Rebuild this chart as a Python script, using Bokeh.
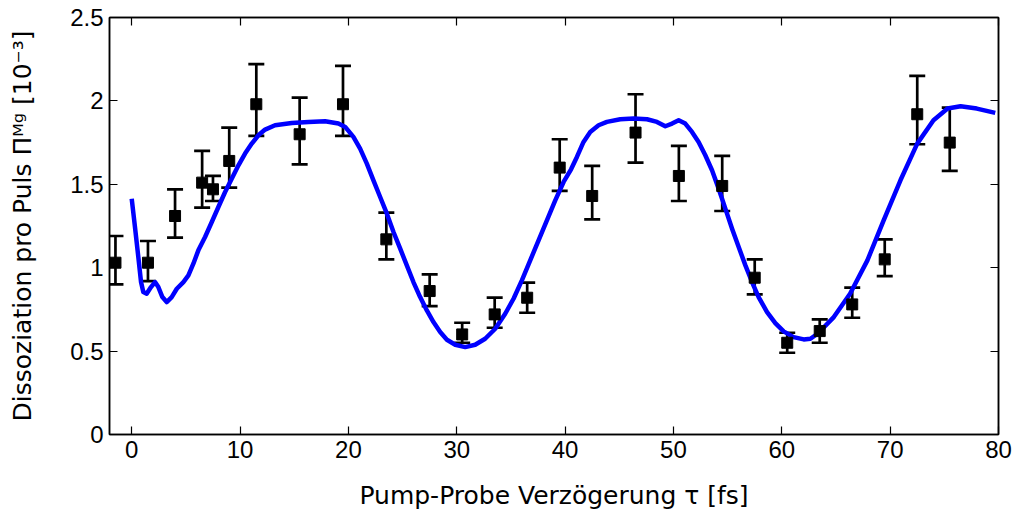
from bokeh.plotting import figure
from bokeh.models import (ColumnDataSource, Whisker, TeeHead, LinearAxis, Range1d,
                          FixedTicker, NumeralTickFormatter, CustomJSTickFormatter)
from bokeh.embed import file_html
from bokeh.resources import INLINE

# measured data (delay in fs, dissociation per pulse in 1e-3)
delay = [-1.5, 1.5, 4.0, 6.5, 7.5, 9.0, 11.5, 15.5, 19.5, 23.5, 27.5, 30.5, 33.5,
         36.5, 39.5, 42.5, 46.5, 50.5, 54.5, 57.5, 60.5, 63.5, 66.5, 69.5, 72.5, 75.5]
signal = [1.03, 1.03, 1.31, 1.51, 1.47, 1.64, 1.98, 1.80, 1.98, 1.17, 0.86, 0.60, 0.72,
          0.82, 1.60, 1.43, 1.81, 1.55, 1.49, 0.94, 0.55, 0.62, 0.78, 1.05, 1.92, 1.75]
err_upper = [1.19, 1.16, 1.47, 1.70, 1.55, 1.84, 2.22, 2.02, 2.21, 1.33, 0.96, 0.67, 0.82,
             0.91, 1.77, 1.61, 2.04, 1.73, 1.67, 1.05, 0.61, 0.69, 0.88, 1.17, 2.15, 1.96]
err_lower = [0.90, 0.92, 1.18, 1.36, 1.40, 1.48, 1.79, 1.62, 1.79, 1.05, 0.77, 0.55, 0.64,
             0.73, 1.46, 1.29, 1.63, 1.40, 1.34, 0.84, 0.49, 0.55, 0.70, 0.95, 1.74, 1.58]

# theory curve
theory_x = [0.0, 0.30, 0.61, 0.86, 1.07, 1.38, 1.78, 2.15, 2.46, 2.83, 3.23, 3.69, 4.16,
            4.77, 5.23, 5.69, 6.15, 6.77, 7.39, 8.0, 8.62, 9.23, 9.85, 10.46, 11.08,
            11.69, 12.31, 13.23, 14.77, 16.31, 17.85, 19.08, 19.7, 20.46, 21.08, 21.7,
            22.31, 22.93, 23.55, 24.16, 24.78, 25.39, 26.0, 26.62, 27.24, 27.85, 28.47,
            29.09, 29.86, 30.78, 31.70, 32.62, 33.55, 34.47, 35.24, 36.01, 36.78, 37.55,
            38.32, 39.09, 39.86, 40.55, 41.09, 41.70, 42.32, 43.09, 43.86, 45.09, 46.32,
            47.56, 48.48, 49.25, 49.87, 50.48, 51.09, 51.71, 52.32, 52.94, 53.56, 54.17,
            54.79, 55.41, 56.02, 56.64, 57.25, 57.86, 58.64, 59.40, 60.17, 61.09, 62.02,
            62.64, 63.3, 64.8, 66.3, 67.9, 69.4, 70.95, 72.5, 74.0, 75.3, 76.5, 78.0, 79.7]
theory_y = [1.414, 1.244, 1.064, 0.914, 0.854, 0.844, 0.884, 0.914, 0.884, 0.824, 0.794,
            0.824, 0.874, 0.914, 0.954, 1.024, 1.104, 1.184, 1.274, 1.364, 1.454, 1.534,
            1.614, 1.684, 1.744, 1.794, 1.828, 1.854, 1.868, 1.874, 1.878, 1.864, 1.844,
            1.784, 1.714, 1.624, 1.524, 1.424, 1.324, 1.214, 1.114, 1.014, 0.914, 0.824,
            0.744, 0.674, 0.614, 0.568, 0.538, 0.524, 0.538, 0.574, 0.634, 0.724, 0.814,
            0.924, 1.044, 1.164, 1.284, 1.404, 1.514, 1.59, 1.664, 1.754, 1.814, 1.854,
            1.874, 1.89, 1.894, 1.89, 1.874, 1.848, 1.864, 1.884, 1.864, 1.814, 1.754,
            1.674, 1.584, 1.474, 1.354, 1.234, 1.124, 1.014, 0.914, 0.824, 0.734, 0.668,
            0.618, 0.584, 0.57, 0.574, 0.604, 0.704, 0.844, 1.044, 1.284, 1.524, 1.744,
            1.884, 1.954, 1.968, 1.954, 1.928]

x_ticks = [0, 10, 20, 30, 40, 50, 60, 70, 80]
y_ticks = [0, 0.5, 1.0, 1.5, 2.0, 2.5]

p = figure(width=1017, height=523, output_backend="svg", toolbar_location=None,
           x_range=Range1d(-2.05, 80), y_range=Range1d(0, 2.5),
           min_border_left=109, min_border_right=19, min_border_top=17, min_border_bottom=89)
p.background_fill_color = "white"
p.border_fill_color = "white"
p.outline_line_color = "black"
p.outline_line_width = 1.5
p.xgrid.visible = False
p.ygrid.visible = False

p.line(theory_x, theory_y, line_color="#0000ff", line_width=4.5, line_join="round")

src = ColumnDataSource(dict(x=delay, y=signal, upper=err_upper, lower=err_lower))
head_u = TeeHead(size=16, line_width=2.7, line_color="black")
head_l = TeeHead(size=16, line_width=2.7, line_color="black")
p.add_layout(Whisker(source=src, base="x", upper="upper", lower="lower",
                     line_color="black", line_width=2.7,
                     upper_head=head_u, lower_head=head_l))
p.scatter("x", "y", source=src, marker="square", size=11, color="black")

def style(ax, labels=True):
    ax.major_tick_in = 8
    ax.major_tick_out = 0
    ax.minor_tick_line_color = None
    ax.major_tick_line_color = "black"
    ax.major_tick_line_width = 1.2
    ax.axis_line_color = "black"
    ax.axis_line_width = 1.5
    if labels:
        ax.major_label_text_font = "Liberation Sans"
        ax.major_label_text_font_size = "24px"
        ax.major_label_text_color = "black"
    else:
        ax.formatter = CustomJSTickFormatter(code="return '';")
        ax.major_label_standoff = 0

xa = p.xaxis[0]
ya = p.yaxis[0]
xa.ticker = FixedTicker(ticks=x_ticks)
ya.ticker = FixedTicker(ticks=y_ticks)
ya.formatter = NumeralTickFormatter(format="0.[0]")
style(xa)
style(ya)
xa.major_label_standoff = 6
ya.major_label_standoff = 6
xa.axis_label = "Pump-Probe Verzögerung τ [fs]"
ya.axis_label = "Dissoziation pro Puls Πᴹᵍ [10⁻³]"
for ax in (xa, ya):
    ax.axis_label_text_font = "DejaVu Sans"
    ax.axis_label_text_font_size = "25px"
    ax.axis_label_text_font_style = "normal"
    ax.axis_label_text_color = "black"
xa.axis_label_standoff = 20
ya.axis_label_standoff = 30

ra = LinearAxis(ticker=FixedTicker(ticks=y_ticks))
ta = LinearAxis(ticker=FixedTicker(ticks=x_ticks))
style(ra, labels=False)
style(ta, labels=False)
p.add_layout(ra, "right")
p.add_layout(ta, "above")

open("out.html", "w").write(file_html(p, INLINE))
